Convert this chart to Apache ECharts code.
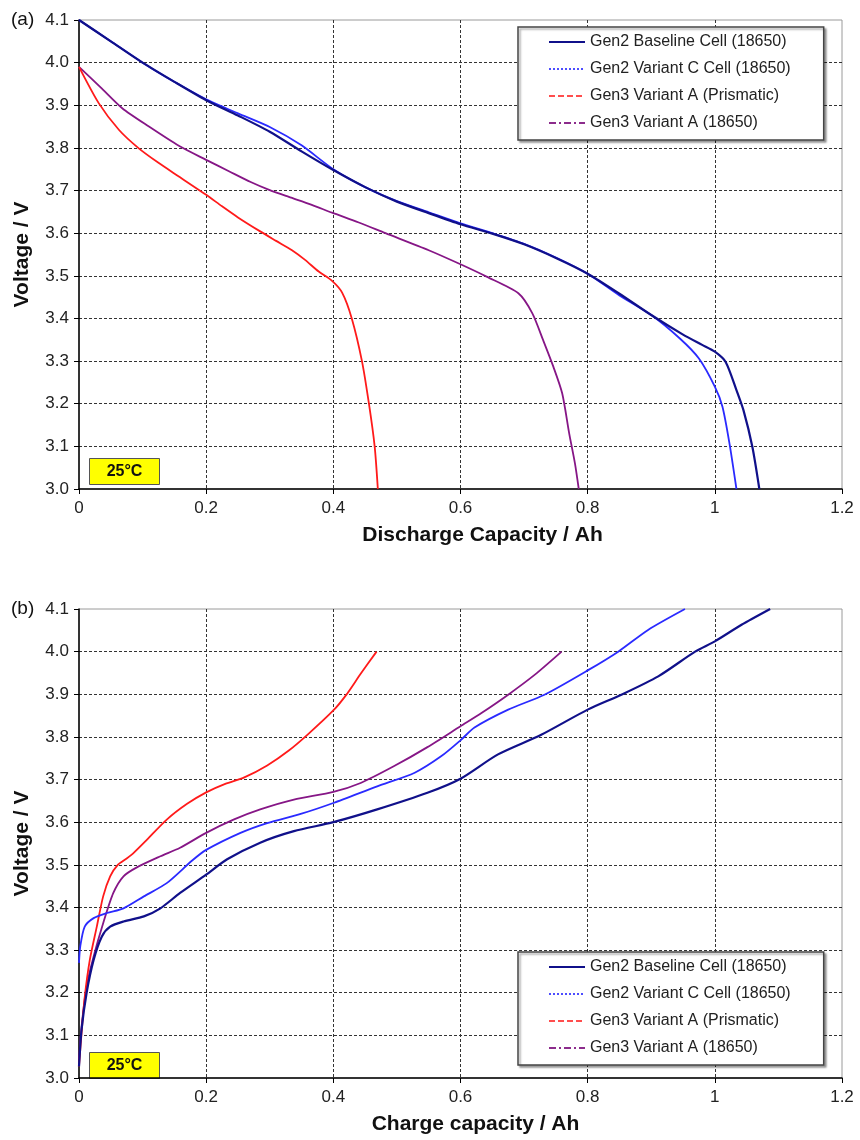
<!DOCTYPE html>
<html>
<head>
<meta charset="utf-8">
<script src="https://cdn.jsdelivr.net/npm/echarts@6/dist/echarts.min.js"></script>
<style>
  html, body { margin: 0; padding: 0; background: #fff; }
  #chart { width: 860px; height: 1140px; }
</style>
</head>
<body>
<div id="chart"></div>
<script>
// ---------- Data ----------
const seriesNames = [
  'Gen2 Baseline Cell (18650)',
  'Gen2 Variant C Cell (18650)',
  'Gen3 Variant A (Prismatic)',
  'Gen3 Variant A (18650)'
];
const xTicks = [0, 0.2, 0.4, 0.6, 0.8, 1.0, 1.2];
const yTicks = [3.0, 3.1, 3.2, 3.3, 3.4, 3.5, 3.6, 3.7, 3.8, 3.9, 4.0, 4.1];

// (a) Discharge: [capacity Ah, voltage V]
const disGen2Base = [[0,4.10],[0.05,4.05],[0.1,4.0],[0.15,3.955],[0.2,3.912],[0.25,3.876],[0.3,3.838],[0.35,3.792],[0.4,3.748],[0.45,3.708],[0.5,3.674],[0.55,3.647],[0.6,3.621],[0.65,3.599],[0.7,3.574],[0.75,3.542],[0.8,3.505],[0.85,3.458],[0.9,3.408],[0.95,3.362],[0.98,3.338],[1.0,3.322],[1.017,3.298],[1.034,3.232],[1.045,3.185],[1.059,3.099],[1.07,3.0]];
const disGen2VarC = [[0,4.10],[0.05,4.05],[0.1,4.0],[0.15,3.955],[0.2,3.914],[0.25,3.881],[0.3,3.849],[0.35,3.806],[0.4,3.75],[0.45,3.708],[0.5,3.675],[0.55,3.649],[0.6,3.623],[0.65,3.6],[0.7,3.575],[0.75,3.543],[0.8,3.505],[0.85,3.454],[0.9,3.408],[0.945,3.353],[0.975,3.306],[1.0,3.24],[1.012,3.193],[1.023,3.107],[1.034,3.0]];
const disGen3Pris = [[0,3.99],[0.031,3.905],[0.063,3.842],[0.094,3.799],[0.125,3.765],[0.157,3.733],[0.2,3.69],[0.225,3.663],[0.25,3.637],[0.283,3.606],[0.31,3.582],[0.335,3.56],[0.355,3.538],[0.377,3.51],[0.398,3.488],[0.414,3.46],[0.429,3.40],[0.445,3.30],[0.456,3.20],[0.465,3.10],[0.47,3.0]];
const disGen3Cyl  = [[0,3.99],[0.034,3.942],[0.068,3.893],[0.11,3.85],[0.157,3.805],[0.2,3.772],[0.235,3.746],[0.27,3.72],[0.3,3.701],[0.33,3.685],[0.365,3.667],[0.398,3.648],[0.44,3.625],[0.482,3.60],[0.55,3.56],[0.6,3.527],[0.641,3.498],[0.691,3.459],[0.713,3.412],[0.73,3.349],[0.746,3.287],[0.76,3.224],[0.771,3.13],[0.78,3.06],[0.786,3.0]];

// (b) Charge: [capacity Ah, voltage V]
const chgGen2Base = [[0,3.027],[0.004,3.113],[0.012,3.2],[0.023,3.277],[0.036,3.332],[0.049,3.355],[0.07,3.367],[0.102,3.379],[0.128,3.398],[0.159,3.434],[0.2,3.477],[0.233,3.513],[0.285,3.552],[0.338,3.579],[0.4,3.6],[0.469,3.63],[0.548,3.669],[0.6,3.702],[0.659,3.759],[0.727,3.805],[0.8,3.864],[0.853,3.899],[0.911,3.942],[0.969,4.0],[1.0,4.024],[1.042,4.063],[1.087,4.1]];
const chgGen2VarC = [[0,3.27],[0.002,3.309],[0.009,3.355],[0.023,3.375],[0.044,3.387],[0.07,3.398],[0.102,3.426],[0.138,3.457],[0.178,3.51],[0.2,3.535],[0.254,3.575],[0.296,3.598],[0.35,3.62],[0.4,3.645],[0.469,3.684],[0.528,3.716],[0.57,3.755],[0.6,3.792],[0.622,3.822],[0.675,3.864],[0.732,3.899],[0.8,3.956],[0.848,4.0],[0.895,4.051],[0.953,4.1]];
const chgGen3Pris = [[0,3.027],[0.004,3.105],[0.009,3.19],[0.017,3.277],[0.028,3.355],[0.038,3.426],[0.049,3.473],[0.061,3.50],[0.075,3.515],[0.086,3.528],[0.107,3.559],[0.138,3.606],[0.17,3.643],[0.2,3.67],[0.23,3.69],[0.26,3.705],[0.296,3.733],[0.33,3.768],[0.36,3.806],[0.4,3.862],[0.42,3.898],[0.443,3.948],[0.468,4.0]];
const chgGen3Cyl  = [[0,3.043],[0.004,3.12],[0.012,3.215],[0.023,3.285],[0.038,3.363],[0.054,3.434],[0.07,3.473],[0.091,3.494],[0.128,3.52],[0.159,3.54],[0.2,3.575],[0.243,3.606],[0.285,3.63],[0.338,3.653],[0.4,3.671],[0.443,3.692],[0.495,3.731],[0.548,3.776],[0.6,3.825],[0.633,3.856],[0.675,3.899],[0.717,3.946],[0.759,4.0]];

const panelLabels = ['(a)', '(b)'];
const xTitles = ['Discharge Capacity / Ah', 'Charge capacity / Ah'];
const yTitle = 'Voltage / V';
const tempLabel = '25°C';

// ---------- Styling ----------
const FONT = "'Liberation Sans', Arial, Helvetica, sans-serif";
const colors = ['#10108a', '#2a2aff', '#ff1a1a', '#861686'];
const legendTypes = ['solid', 'dotted', [6, 3], [7, 3, 2, 3]];
const legendColors = ['#10108a', '#4d4dff', '#ff4d4d', '#8c2c8c'];

const gridTops = [20, 609];
const gridH = 469;

function makeX(i) {
  return {
    type: 'value', gridIndex: i, min: xTicks[0], max: xTicks[xTicks.length - 1], interval: 0.2,
    name: xTitles[i], nameLocation: 'middle', nameGap: 36,
    nameTextStyle: { fontFamily: FONT, fontWeight: 'bold', fontSize: 21, color: '#111', padding: [0, 0, 0, i === 0 ? 44 : 30] },
    axisLine: { show: true, onZero: false, lineStyle: { color: '#000', width: 1.5 } },
    axisTick: { show: true, inside: false, length: 5, lineStyle: { color: '#000' } },
    axisLabel: { margin: 11, fontFamily: FONT, fontSize: 17, color: '#222',
      formatter: v => (Math.abs(v) < 1e-9 ? '0' : (Math.abs(v - 1) < 1e-9 ? '1' : String(+v.toFixed(1)))) },
    splitLine: { show: true, showMinLine: false, showMaxLine: false, lineStyle: { color: '#333', type: [3, 2], width: 1 } }
  };
}
function makeY(i) {
  return {
    type: 'value', gridIndex: i, min: yTicks[0], max: yTicks[yTicks.length - 1], interval: 0.1,
    name: yTitle, nameLocation: 'middle', nameGap: 46, nameRotate: 90,
    nameTextStyle: { fontFamily: FONT, fontWeight: 'bold', fontSize: 21, color: '#111' },
    axisLine: { show: true, onZero: false, lineStyle: { color: '#000', width: 1.5 } },
    axisTick: { show: true, inside: false, length: 5, lineStyle: { color: '#000' } },
    axisLabel: { margin: 10, fontFamily: FONT, fontSize: 17, color: '#222', formatter: v => v.toFixed(1) },
    splitLine: { show: true, showMinLine: false, showMaxLine: false, lineStyle: { color: '#333', type: [3, 2], width: 1 } }
  };
}
function makeSeries(i, idx, data) {
  return {
    name: seriesNames[idx], type: 'line', xAxisIndex: i, yAxisIndex: i,
    data: data, symbol: 'none', smooth: 0.25,
    lineStyle: { color: colors[idx], width: idx === 0 ? 2.2 : 1.8 },
    itemStyle: { color: colors[idx] }, z: 3 + (3 - idx)
  };
}
function makeLegend(top) {
  return {
    orient: 'vertical', left: 518, top: top,
    padding: [7, 33, 9, 30], itemGap: 11, itemWidth: 36, itemHeight: 14,
    backgroundColor: '#fff', borderColor: '#444', borderWidth: 1.5,
    shadowColor: 'rgba(0,0,0,0.35)', shadowBlur: 2, shadowOffsetX: 2, shadowOffsetY: 2,
    selectedMode: false,
    textStyle: { fontFamily: FONT, fontSize: 16, color: '#222' },
    data: seriesNames.map((n, k) => ({
      name: n,
      itemStyle: { opacity: 0, color: 'rgba(0,0,0,0)', borderColor: 'rgba(0,0,0,0)', borderWidth: 0 },
      lineStyle: { type: legendTypes[k], width: 2, color: legendColors[k], opacity: 1 }
    }))
  };
}
function tempBox(top) {
  return {
    type: 'group', left: 89, top: top,
    children: [
      { type: 'rect', shape: { x: 0, y: 0, width: 70, height: 26 }, style: { fill: '#ffff00', stroke: '#555', lineWidth: 1 } },
      { type: 'text', x: 35, y: 13, style: { text: tempLabel, fontFamily: FONT, fontWeight: 'bold', fontSize: 16, fill: '#111', align: 'center', verticalAlign: 'middle' } }
    ]
  };
}

const option = {
  animation: false,
  backgroundColor: '#fff',
  grid: gridTops.map(t => ({ left: 79, top: t, width: 763, height: gridH, show: true, borderColor: '#9a9a9a', borderWidth: 1, backgroundColor: 'transparent' })),
  xAxis: [makeX(0), makeX(1)],
  yAxis: [makeY(0), makeY(1)],
  legend: [makeLegend(27), makeLegend(952)],
  series: [
    makeSeries(0, 0, disGen2Base), makeSeries(0, 1, disGen2VarC), makeSeries(0, 2, disGen3Pris), makeSeries(0, 3, disGen3Cyl),
    makeSeries(1, 0, chgGen2Base), makeSeries(1, 1, chgGen2VarC), makeSeries(1, 2, chgGen3Pris), makeSeries(1, 3, chgGen3Cyl)
  ],
  graphic: [
    { type: 'text', left: 11, top: 10, style: { text: panelLabels[0], fontFamily: FONT, fontSize: 19, fill: '#111' } },
    { type: 'text', left: 11, top: 599, style: { text: panelLabels[1], fontFamily: FONT, fontSize: 19, fill: '#111' } },
    tempBox(458),
    tempBox(1052)
  ]
};

const chart = echarts.init(document.getElementById('chart'), null, { renderer: 'canvas' });
chart.setOption(option);
</script>
</body>
</html>
